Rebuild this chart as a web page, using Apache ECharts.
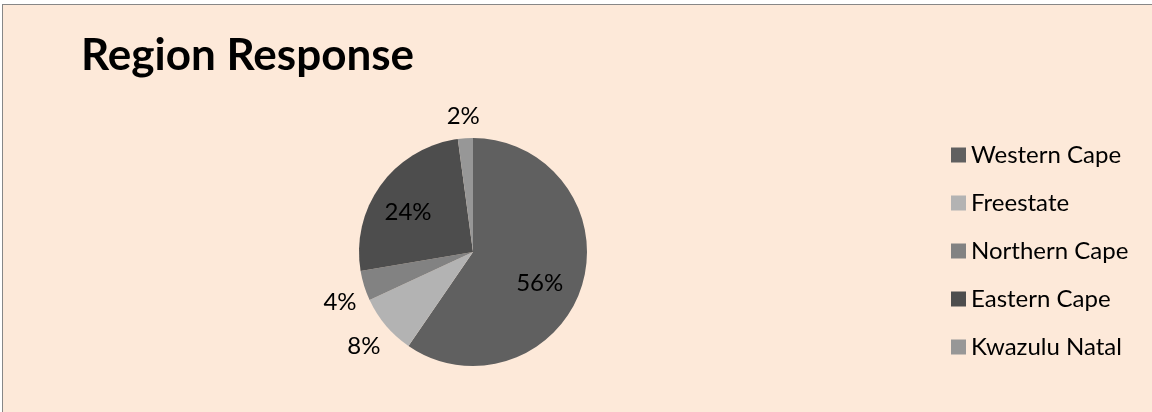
<!DOCTYPE html>
<html>
<head>
<meta charset="utf-8">
<script src="https://cdn.jsdelivr.net/npm/echarts@6/dist/echarts.min.js"></script>
<style>
html,body{margin:0;padding:0;background:#ffffff;overflow:hidden;width:1152px;height:412px;}
#wrap{position:absolute;left:2px;top:4px;width:1150px;height:408px;border-left:1px solid #878787;border-top:1px solid #878787;background:#fde9d9;}
#chart{width:1150px;height:408px;}
</style>
</head>
<body>
<div id="wrap"><div id="chart"></div></div>
<script>
const categories = ['Western Cape', 'Freestate', 'Northern Cape', 'Eastern Cape', 'Kwazulu Natal'];
const values = [56, 8, 4, 24, 2];
const colors = ['#606060', '#b3b3b3', '#828282', '#4d4d4d', '#979797'];
const insideLabels = [true, false, false, true, false];
// small label nudges (Excel best-fit placement), in px
const labelNudgeX = [-8, 2, 6, -2, 0];
const labelNudgeY = [8, 0, 7, 7, 9];

const FONT = 'Lato, Carlito, "Open Sans", sans-serif';
const center = [470, 247];
const R = 114;

const mainData = categories.map((c, i) => ({ name: c, value: values[i], itemStyle: { color: colors[i] } }));
const innerLabelData = categories.map((c, i) => ({ name: c, value: values[i], label: { show: insideLabels[i] } }));
const outerLabelData = categories.map((c, i) => ({ name: c, value: values[i], label: { show: !insideLabels[i] } }));

const labelStyle = { position: 'inside', formatter: '{c}%', fontFamily: FONT, fontSize: 24, color: '#000' };
const nudge = p => ({ dx: labelNudgeX[p.dataIndex], dy: labelNudgeY[p.dataIndex] });

const chart = echarts.init(document.getElementById('chart'), null, { renderer: 'canvas' });
chart.setOption({
  animation: false,
  backgroundColor: 'transparent',
  title: {
    text: 'Region Response',
    left: 78, top: 29, padding: 0,
    textStyle: { fontFamily: FONT, fontSize: 44, fontWeight: 'bold', color: '#000' }
  },
  legend: {
    orient: 'vertical',
    left: 948, top: 138, padding: 0,
    itemWidth: 15, itemHeight: 15, itemGap: 24, itemTextGap: 8,
    icon: 'rect',
    data: categories,
    textStyle: { fontFamily: FONT, fontSize: 24, color: '#000', lineHeight: 24 }
  },
  series: [
    {
      type: 'pie', center: center, radius: [0, R], startAngle: 90, clockwise: true,
      label: { show: false }, labelLine: { show: false },
      itemStyle: { borderWidth: 0 },
      emphasis: { disabled: true },
      data: mainData
    },
    {
      type: 'pie', center: center, radius: [0, R * 1.32], startAngle: 90, clockwise: true, silent: true,
      itemStyle: { color: 'transparent', borderWidth: 0 }, labelLine: { show: false },
      label: labelStyle, emphasis: { disabled: true }, legendHoverLink: false,
      labelLayout: nudge,
      data: innerLabelData
    },
    {
      type: 'pie', center: center, radius: [0, R * 2.5], startAngle: 90, clockwise: true, silent: true,
      itemStyle: { color: 'transparent', borderWidth: 0 }, labelLine: { show: false },
      label: labelStyle, emphasis: { disabled: true }, legendHoverLink: false,
      labelLayout: nudge,
      data: outerLabelData
    }
  ]
});
</script>
</body>
</html>
